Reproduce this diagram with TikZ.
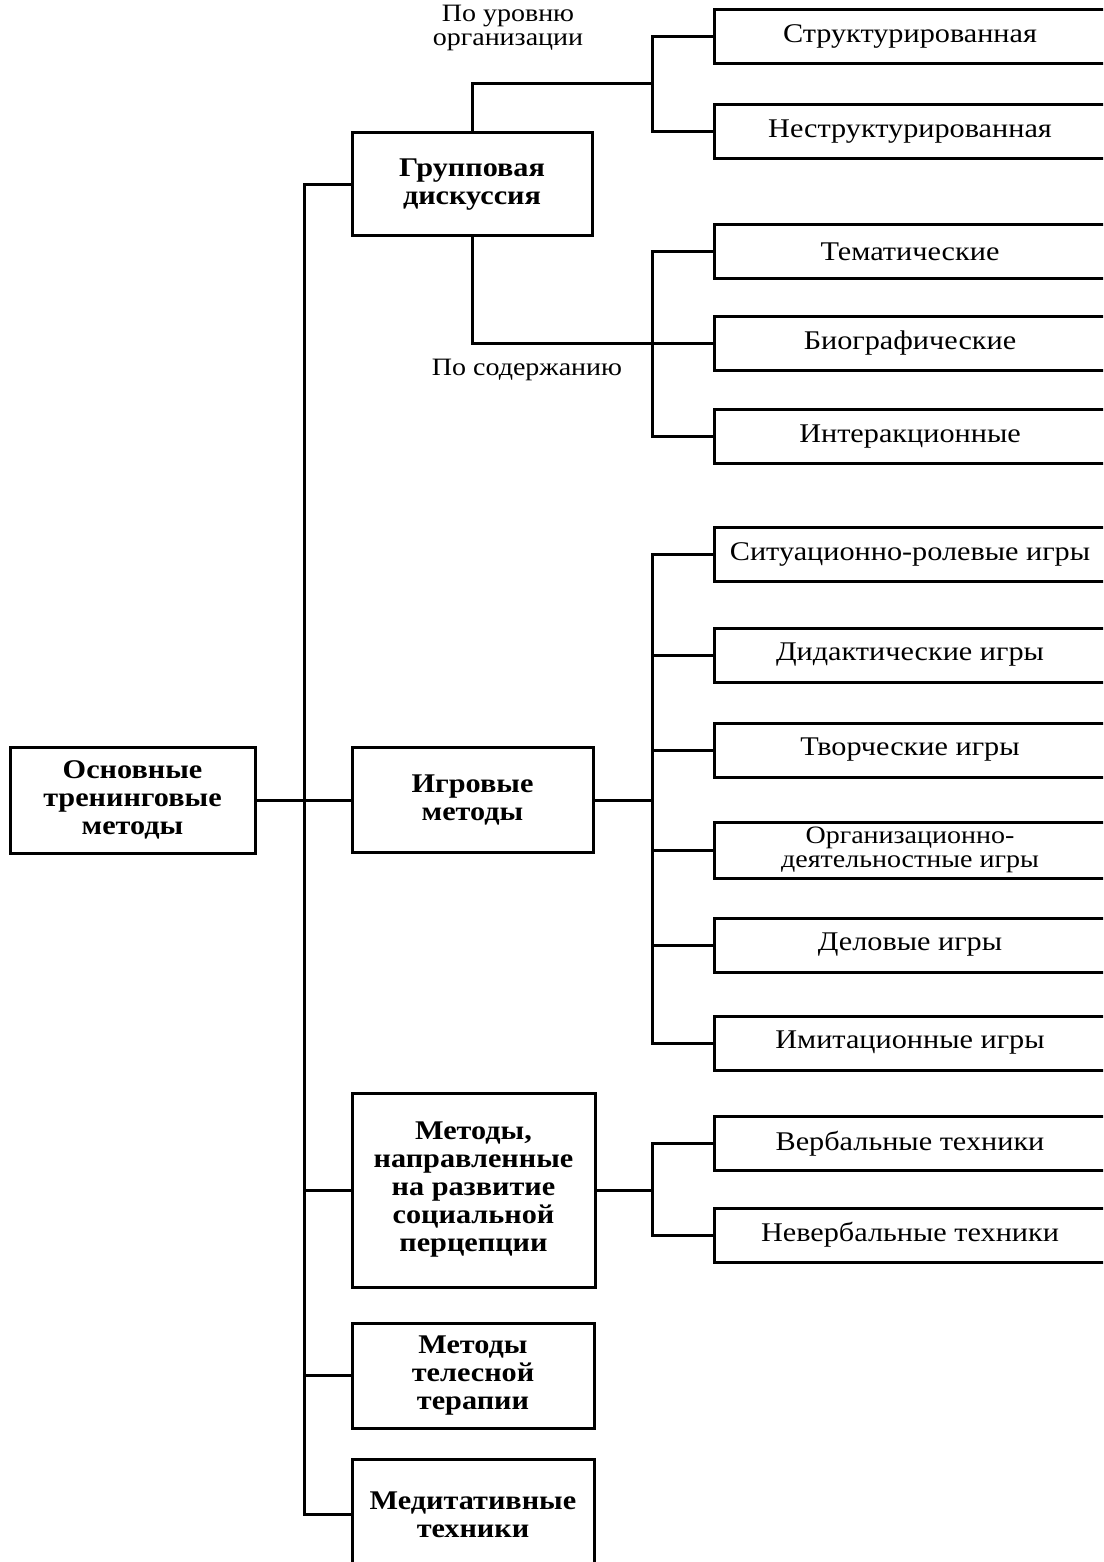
\documentclass[tikz,border=0pt]{standalone}
\usepackage{fontspec}
\setmainfont{Liberation Serif}[FakeStretch=1.12]
\begin{document}
\begin{tikzpicture}[x=1pt,y=-1pt,
  conn/.style={line width=3pt},
  lbox/.style={draw, line width=3pt, align=center, inner sep=0pt,
    font=\fontsize{27}{28}\selectfont\bfseries},
  rbox/.style={draw, line width=3pt, align=center, inner sep=0pt,
    minimum width=392pt, minimum height=54pt,
    font=\fontsize{27}{27}\selectfont},
  lab/.style={align=center, inner sep=0pt, font=\fontsize{25}{24}\selectfont}]
\useasboundingbox (0,0) rectangle (1103,1562);
\clip (0,0) rectangle (1103,1562);
% left column
\node[lbox, minimum width=245pt, minimum height=106pt] (root) at (132.5,800) {Основные\\тренинговые\\методы};
\node[lbox, minimum width=240pt, minimum height=103pt] (grp) at (472,184.5) {Групповая\\дискуссия};
\node[lbox, minimum width=241pt, minimum height=105pt] (igr) at (472.5,800) {Игровые\\методы};
\node[lbox, minimum width=243pt, minimum height=194pt] (per) at (473.5,1190) {Методы,\\направленные\\на развитие\\социальной\\перцепции};
\node[lbox, minimum width=242pt, minimum height=105pt] (tel) at (473,1375.5) {Методы\\телесной\\терапии};
\node[lbox, minimum width=242pt, minimum height=111pt] (med) at (473,1514.5) {Медитативные\\техники};
% right column
\node[rbox] (str) at (910,36.5) {Структурированная};
\node[rbox] (nes) at (910,131.5) {Неструктурированная};
\node[rbox] (tem) at (910,251.5) {Тематические};
\node[rbox] (bio) at (910,343) {Биографические};
\node[rbox] (int) at (910,436.5) {Интеракционные};
\node[rbox] (sit) at (910,554) {Ситуационно-ролевые игры};
\node[rbox] (did) at (910,655) {Дидактические игры};
\node[rbox] (tvo) at (910,750) {Творческие игры};
\node[rbox, minimum height=56pt, font=\fontsize{25}{23.5}\selectfont] (org) at (910,850) {Организационно-\\деятельностные игры};
\node[rbox] (del) at (910,945) {Деловые игры};
\node[rbox] (imi) at (910,1043) {Имитационные игры};
\node[rbox] (ver) at (910,1143.5) {Вербальные техники};
\node[rbox] (nev) at (910,1235) {Невербальные техники};
% labels
\node[lab] (l1) at (508,28) {По уровню\\организации};
\node[lab] (l2) at (527,370) {По содержанию};
% junction coordinates
\coordinate (tr) at (304,800);
\coordinate (ja) at (652,84);
\coordinate (jb) at (652,343);
\coordinate (jc) at (652,800);
\coordinate (jd) at (652,1190);
% trunk
\draw[conn] (root.east) -- (igr.west);
\draw[conn] (grp.west) -- (grp.west -| tr) |- (med.west);
\draw[conn] (tr |- per.west) -- (per.west);
\draw[conn] (tr |- tel.west) -- (tel.west);
% group discussion
\draw[conn] (grp.north) |- (ja);
\draw[conn] (str.west) -| (ja) |- (nes.west);
\draw[conn] (grp.south) |- (bio.west);
\draw[conn] (tem.west) -| (jb) |- (int.west);
% games
\draw[conn] (igr.east) -- (jc);
\draw[conn] (sit.west) -| (jc) |- (imi.west);
\draw[conn] (jc |- did.west) -- (did.west);
\draw[conn] (jc |- tvo.west) -- (tvo.west);
\draw[conn] (jc |- org.west) -- (org.west);
\draw[conn] (jc |- del.west) -- (del.west);
% perception
\draw[conn] (per.east) -- (jd);
\draw[conn] (ver.west) -| (jd) |- (nev.west);
\end{tikzpicture}
\end{document}
